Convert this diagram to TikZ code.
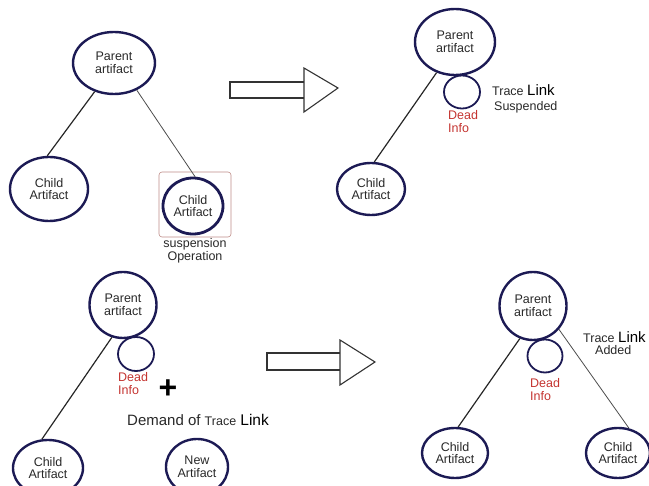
\documentclass[tikz,border=0pt]{standalone}
\usepackage{fontspec}
\setmainfont{Liberation Sans}
\usepackage{tikz}
\usetikzlibrary{shapes.geometric}
\definecolor{navy}{RGB}{28,26,84}
\definecolor{deadred}{RGB}{196,52,48}
\definecolor{boxred}{RGB}{190,140,135}
\definecolor{txt}{RGB}{40,40,40}
\tikzstyle{every node}=[inner sep=0pt,text=txt,font=\fontsize{12.5}{12.8}\selectfont]
\tikzstyle{artifact}=[ellipse,draw=navy,line width=2.4pt,align=center]
\tikzstyle{dead}=[ellipse,draw=navy,line width=1.8pt]
\tikzstyle{deadtext}=[align=left,text=deadred,anchor=north west]
\tikzstyle{link}=[line width=1.2pt,black!85]
\tikzstyle{bigarrow}=[line width=1.1pt,black!80]

\begin{document}
\begin{tikzpicture}[x=1pt,y=-1pt]
  \useasboundingbox (0,0) rectangle (649,486);
  % before: suspension
  \node[artifact,minimum width=82pt,minimum height=62pt] (par1) at (114,63) {Parent\\artifact};
  \node[artifact,minimum width=78pt,minimum height=64pt] (ch1a) at (49,189) {Child\\Artifact};
  \node[draw=boxred,line width=0.6pt,rounded corners=3pt,minimum width=72pt,minimum height=65pt] (susbox) at (195,204.5) {};
  \node[artifact,line width=2.8pt,minimum width=60pt,minimum height=56pt] (ch1b) at (193,206) {Child\\Artifact};
  \node[align=center,anchor=north] (susp) at (195,238) {suspension\\Operation};
  \draw[link] (par1.236) -- (ch1a.93);
  \draw[link,line width=0.8pt,black!70] (par1.310) -- (ch1b.86);

  % arrow 1
  \draw[bigarrow] (304,82) -- (230,82) -- (230,98) -- (304,98);
  \draw[bigarrow] (304,68) -- (338,88) -- (304,112) -- cycle;

  % after: suspended
  \node[artifact,minimum width=80pt,minimum height=66pt] (par2) at (455,42) {Parent\\artifact};
  \node[dead,minimum width=36pt,minimum height=33pt] (dead2) at (462,92) {};
  \node[deadtext] (dtext2) at (448,110) {Dead\\Info};
  \node[anchor=west] (trace2) at (492,90) {Trace \fontsize{15}{15}\selectfont\textcolor{black}{Link}};
  \node[anchor=west] (susp2) at (494,107) {Suspended};
  \node[artifact,minimum width=68pt,minimum height=52pt] (ch2a) at (371,189) {Child\\Artifact};
  \draw[link] (par2.239) -- (ch2a.83);

  % before: demand
  \node[artifact,minimum width=67pt,minimum height=66pt] (par3) at (123,305) {Parent\\artifact};
  \node[dead,minimum width=36pt,minimum height=34pt] (dead3) at (136,354) {};
  \node[deadtext] (dtext3) at (118,372) {Dead\\Info};
  \node[font=\fontsize{32}{32}\selectfont\bfseries,text=black] (plus) at (168,389) {+};
  \node[anchor=west,font=\fontsize{15}{15}\selectfont] (demand) at (127,420) {Demand of {\fontsize{12.5}{12.5}\selectfont Trace} \textcolor{black}{\fontsize{15.5}{15.5}\selectfont Link}};
  \node[artifact,minimum width=70pt,minimum height=56pt] (ch3a) at (48,468) {Child\\Artifact};
  \node[artifact,minimum width=62pt,minimum height=56pt] (new3) at (197,467) {New\\Artifact};
  \draw[link] (par3.251) -- (ch3a.102);

  % arrow 2
  \draw[bigarrow] (340,353) -- (267,353) -- (267,370) -- (340,370);
  \draw[bigarrow] (340,340) -- (375,362) -- (340,385) -- cycle;

  % after: added
  \node[artifact,minimum width=67pt,minimum height=68pt] (par4) at (533,306) {Parent\\artifact};
  \node[dead,minimum width=35pt,minimum height=33pt] (dead4) at (545,356) {};
  \node[deadtext] (dtext4) at (530,378) {Dead\\Info};
  \node[anchor=west] (trace4) at (583,337) {Trace \fontsize{15}{15}\selectfont\textcolor{black}{Link}};
  \node[anchor=west] (added4) at (595,350) {Added};
  \node[artifact,minimum width=66pt,minimum height=50pt] (ch4a) at (455,453) {Child\\Artifact};
  \node[artifact,minimum width=64pt,minimum height=50pt] (ch4b) at (618,453) {Child\\Artifact};
  \draw[link] (par4.248) -- (ch4a.83);
  \draw[link,line width=0.8pt,black!70] (par4.318) -- (ch4b.66);
\end{tikzpicture}
\end{document}
